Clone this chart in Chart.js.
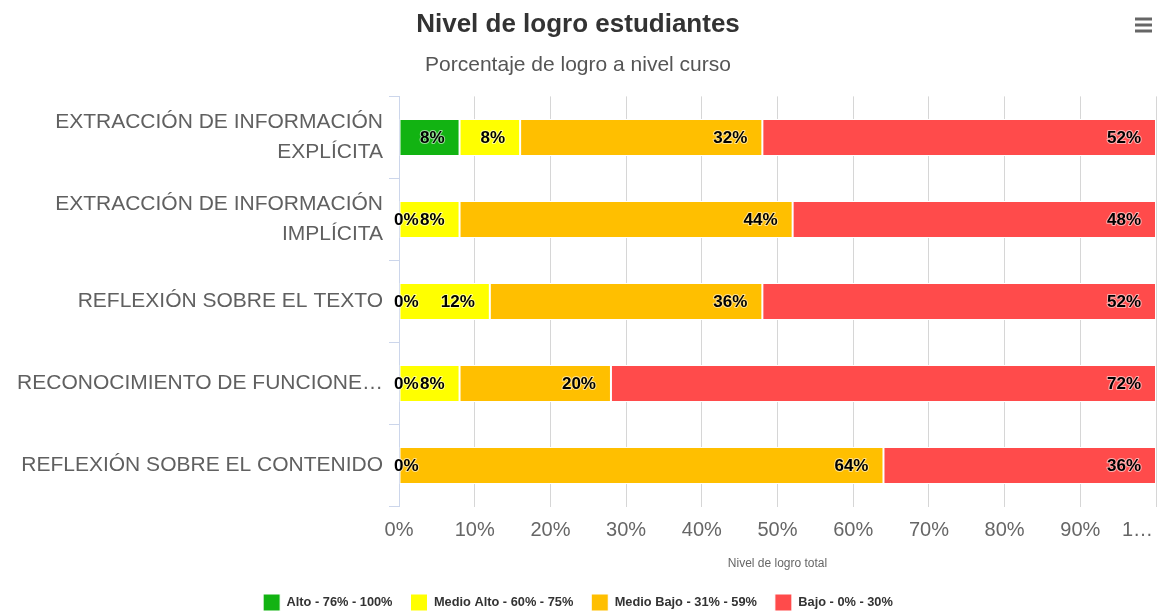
<!DOCTYPE html>
<html>
<head>
<meta charset="utf-8">
<script src="https://cdn.jsdelivr.net/npm/chart.js@4/dist/chart.umd.min.js"></script>
<style>
html,body{margin:0;padding:0;background:#fff;}
#wrap{width:1157px;height:614px;position:relative;}
</style>
</head>
<body>
<div id="wrap"><canvas id="c" width="1157" height="614"></canvas></div>
<script>
const categories = [
  ['EXTRACCIÓN DE INFORMACIÓN', 'EXPLÍCITA'],
  ['EXTRACCIÓN DE INFORMACIÓN', 'IMPLÍCITA'],
  'REFLEXIÓN SOBRE EL TEXTO',
  'RECONOCIMIENTO DE FUNCIONE…',
  'REFLEXIÓN SOBRE EL CONTENIDO'
];
const seriesNames = ['Alto - 76% - 100%', 'Medio Alto - 60% - 75%', 'Medio Bajo - 31% - 59%', 'Bajo - 0% - 30%'];
const alto = [8, 0, 0, 0, 0];
const medioAlto = [8, 8, 12, 8, 0];
const medioBajo = [32, 44, 36, 20, 64];
const bajo = [52, 48, 52, 72, 36];
const tickLabels = ['0%', '10%', '20%', '30%', '40%', '50%', '60%', '70%', '80%', '90%', '1…'];
const colors = ['#12b312', '#ffff00', '#ffbf00', '#ff4b4b'];

const FONT = "'Liberation Sans', Arial, Helvetica, sans-serif";
Chart.defaults.font.family = FONT;

const dataLabels = {
  id: 'dataLabels',
  afterDatasetsDraw(chart) {
    const ctx = chart.ctx;
    ctx.save();
    ctx.font = 'bold 17px ' + FONT;
    ctx.textBaseline = 'middle';
    const drawn = {};
    chart.data.datasets.forEach((ds, di) => {
      const meta = chart.getDatasetMeta(di);
      if (meta.hidden) return;
      meta.data.forEach((el, i) => {
        const v = ds.data[i];
        if (v === null || v === undefined) return;
        const txt = v + '%';
        const w = ctx.measureText(txt).width;
        let left;
        if (v > 0) {
          left = el.x - 15 - w;
        } else {
          left = chart.chartArea.left - 5;
        }
        const boxes = drawn[i] || (drawn[i] = []);
        if (boxes.some(b => Math.min(b.r, left + w) - Math.max(b.l, left) > w / 2)) return;
        boxes.push({l: left, r: left + w});
        ctx.textAlign = 'left';
        ctx.lineJoin = 'round';
        ctx.strokeStyle = 'rgba(255,255,255,0.55)';
        ctx.lineWidth = 2;
        ctx.strokeText(txt, left, el.y + 1);
        ctx.fillStyle = '#000';
        ctx.fillText(txt, left, el.y + 1);
      });
    });
    ctx.restore();
  }
};

const extras = {
  id: 'extras',
  afterDraw(chart) {
    const ctx = chart.ctx;
    const xs = chart.scales.x;
    ctx.save();
    ctx.font = '20px ' + FONT;
    ctx.fillStyle = '#666666';
    ctx.textAlign = 'right';
    ctx.textBaseline = 'middle';
    const last = xs.ticks.length - 1;
    ctx.fillText(tickLabels[last], xs.getPixelForValue(xs.ticks[last].value) - 3, xs.top + 24);
    ctx.strokeStyle = '#666666';
    ctx.lineWidth = 3;
    [19, 25, 31].forEach(y => {
      ctx.beginPath();
      ctx.moveTo(1135, y);
      ctx.lineTo(1152, y);
      ctx.stroke();
    });
    ctx.restore();
  }
};

const datasets = [alto, medioAlto, medioBajo, bajo].map((d, i) => ({
  label: seriesNames[i],
  data: d,
  backgroundColor: colors[i],
  borderColor: '#ffffff',
  borderWidth: 1,
  borderSkipped: false,
  categoryPercentage: 0.5,
  barPercentage: 0.9
}));

new Chart(document.getElementById('c'), {
  type: 'bar',
  data: { labels: categories, datasets },
  options: {
    indexAxis: 'y',
    responsive: false,
    animation: false,
    layout: { padding: { left: 0, right: 1, top: 0, bottom: -7 } },
    scales: {
      x: {
        stacked: true,
        min: 0,
        max: 100,
        afterFit(scale) { scale.paddingLeft = 0; scale.paddingRight = 0; },
        ticks: {
          stepSize: 10,
          padding: 12,
          color: '#666666',
          font: { size: 20 },
          maxRotation: 0,
          autoSkip: false,
          callback: (v, i, arr) => (i === arr.length - 1 ? '' : tickLabels[i])
        },
        grid: { color: '#d6d6d6', lineWidth: 1, drawTicks: false },
        border: { display: false },
        title: {
          display: true,
          text: 'Nivel de logro total',
          color: '#666666',
          font: { size: 12 },
          padding: { top: 2, bottom: 5 }
        }
      },
      y: {
        stacked: true,
        afterFit(scale) { scale.width = 399; },
        ticks: {
          color: '#606060',
          font: { size: 21, lineHeight: 1.45 },
          padding: 6,
          autoSkip: false
        },
        grid: { drawOnChartArea: false, drawTicks: true, tickLength: 10, color: '#ccd6eb' },
        border: { display: true, color: '#ccd6eb', width: 1 }
      }
    },
    plugins: {
      title: {
        display: true,
        text: 'Nivel de logro estudiantes',
        color: '#333333',
        font: { size: 26, weight: 'bold' },
        padding: { top: 9, bottom: 4 }
      },
      subtitle: {
        display: true,
        text: 'Porcentaje de logro a nivel curso',
        color: '#555555',
        font: { size: 21 },
        padding: { top: 8, bottom: 19 }
      },
      legend: {
        position: 'bottom',
        labels: {
          boxWidth: 17,
          boxHeight: 17,
          padding: 18,
          color: '#333333',
          font: { size: 12.8, weight: 'bold' }
        }
      },
      tooltip: { enabled: false }
    }
  },
  plugins: [dataLabels, extras]
});
</script>
</body>
</html>
